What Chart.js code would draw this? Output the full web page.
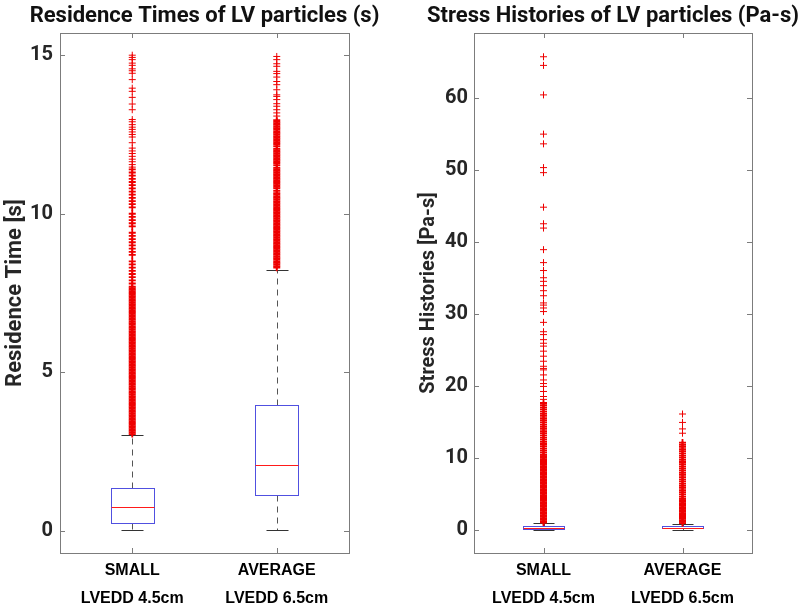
<!DOCTYPE html>
<html>
<head>
<meta charset="utf-8">
<script src="https://cdn.jsdelivr.net/npm/chart.js@4.4.1/dist/chart.umd.min.js"></script>
<style>
  body { margin: 0; background: #fff; }
  .panel { position: absolute; top: 0; width: 400px; height: 608px; }
</style>
</head>
<body>
<div class="panel" style="left:0"><canvas id="resChart" width="400" height="608"></canvas></div>
<div class="panel" style="left:400px"><canvas id="stressChart" width="400" height="608"></canvas></div>
<script>
// categories / tick labels
const categories = ['SMALL', 'AVERAGE'];
const subLabels = ['LVEDD 4.5cm', 'LVEDD 6.5cm'];
const resTicks = [0, 5, 10, 15];
const stressTicks = [0, 10, 20, 30, 40, 50, 60];

// box statistics, residence times (s)
const resLow = [0.03, 0.03];
const resQ1 = [0.26, 1.14];
const resMedian = [0.76, 2.07];
const resQ3 = [1.36, 3.98];
const resHigh = [3.02, 8.24];

// box statistics, stress histories (Pa-s)
const stressLow = [0.0, 0.0];
const stressQ1 = [0.15, 0.17];
const stressMedian = [0.3, 0.3];
const stressQ3 = [0.55, 0.45];
const stressHigh = [0.93, 0.8];

// outliers: packed bands and the scattered ones above them
const resOutSmallDense = [
  3.05, 3.1, 3.15, 3.2, 3.25, 3.3, 3.35, 3.4, 3.45, 3.5, 3.55, 3.6, 3.65, 3.7, 3.75, 3.8, 3.85, 3.9, 3.95, 4.0,
  4.05, 4.1, 4.15, 4.2, 4.25, 4.3, 4.35, 4.4, 4.45, 4.5, 4.55, 4.6, 4.65, 4.7, 4.75, 4.8, 4.85, 4.9, 4.95, 5.0,
  5.05, 5.1, 5.15, 5.2, 5.25, 5.3, 5.35, 5.4, 5.45, 5.5, 5.55, 5.6, 5.65, 5.7, 5.75, 5.8, 5.85, 5.9, 5.95, 6.0,
  6.05, 6.1, 6.15, 6.2, 6.25, 6.3, 6.35, 6.4, 6.45, 6.5, 6.55, 6.6, 6.65, 6.7, 6.75, 6.8, 6.85, 6.9, 6.95, 7.0,
  7.05, 7.1, 7.15, 7.2, 7.25, 7.3, 7.35, 7.4, 7.45, 7.5, 7.55, 7.6, 7.65, 7.7,
  7.8, 7.9, 8.0, 8.1, 8.2, 8.3, 8.4, 8.5, 8.7, 8.8, 8.9, 9.0, 9.1, 9.2, 9.3, 9.4, 9.6, 9.7, 9.8, 9.9,
  10.0, 10.2, 10.3, 10.4, 10.5, 10.6, 10.7, 10.8, 10.9, 11.0, 11.1, 11.2, 11.3, 11.4
];
const resOutSmallSparse = [
  11.47, 11.55, 11.64, 11.72, 11.81, 11.9, 11.98, 12.07, 12.24, 12.42, 12.5, 12.58, 12.66, 12.73, 12.81, 12.9,
  12.97, 13.28, 13.46, 13.67, 13.86, 13.96, 14.23, 14.43, 14.51, 14.57, 14.68, 14.75, 14.86, 14.93, 15.0
];
const resOutAverageDense = [
  8.3, 8.35, 8.4, 8.45, 8.5, 8.55, 8.6, 8.65, 8.7, 8.75, 8.8, 8.85, 8.9, 8.95, 9.0,
  9.05, 9.1, 9.15, 9.2, 9.25, 9.3, 9.35, 9.4, 9.45, 9.5, 9.55, 9.6, 9.65, 9.7, 9.75, 9.8, 9.85, 9.9, 9.95, 10.0,
  10.05, 10.1, 10.15, 10.2, 10.25, 10.3, 10.35, 10.4, 10.45, 10.5, 10.55, 10.6, 10.65, 10.72, 10.8, 10.85, 10.9,
  10.95, 11.0, 11.05, 11.1, 11.15, 11.2, 11.25, 11.3, 11.35, 11.4, 11.45, 11.53, 11.6, 11.65, 11.7, 11.75, 11.8,
  11.85, 11.9, 11.95, 12.0, 12.05, 12.13, 12.2, 12.25, 12.3, 12.35, 12.4, 12.45, 12.5, 12.55, 12.6, 12.65, 12.7,
  12.75, 12.8, 12.85, 12.9, 12.95
];
const resOutAverageSparse = [
  13.08, 13.18, 13.28, 13.39, 13.47, 13.6, 13.7, 13.75, 13.91, 14.07, 14.17, 14.31, 14.42, 14.49, 14.65,
  14.73, 14.86, 14.96
];
const stressOutSmallDense = [
  1.0, 1.2, 1.4, 1.6, 1.8, 2.0, 2.2, 2.4, 2.6, 2.8, 3.0, 3.2, 3.4, 3.6, 3.8, 4.0, 4.2, 4.4, 4.6, 4.8,
  5.0, 5.2, 5.4, 5.6, 5.8, 6.0, 6.2, 6.4, 6.6, 6.8, 7.0, 7.2, 7.4, 7.6, 7.8, 8.0, 8.2, 8.4, 8.6, 8.8,
  9.0, 9.2, 9.4, 9.6, 9.8, 10.0, 10.2, 10.4,
  10.7, 11.0, 11.3, 11.6, 11.9, 12.2, 12.5, 12.8, 13.1, 13.4, 13.7, 14.0, 14.3, 14.6, 14.9, 15.2, 15.5,
  15.8, 16.1, 16.4, 16.7, 17.0, 17.3, 17.6
];
const stressOutSmallSparse = [
  18.1, 18.5, 19.2, 19.9, 20.3, 20.8, 21.5, 22.2, 22.4, 22.7, 23.4, 24.1, 24.8, 25.5, 25.9, 26.4, 27.1,
  27.5, 28.8, 30.3, 30.8, 31.2, 31.5, 32.5, 33.2, 33.9, 34.5, 35.0, 36.0, 37.1, 38.9, 41.9, 42.5, 44.8,
  49.6, 50.3, 53.6, 54.95, 60.4, 64.5, 65.7
];
const stressOutAverageDense = [
  0.9, 1.1, 1.3, 1.5, 1.7, 1.9, 2.1, 2.3, 2.5, 2.7, 2.9, 3.1, 3.3, 3.5, 3.7, 3.9, 4.1, 4.3,
  4.6, 4.9, 5.2, 5.5, 5.8, 6.1, 6.4, 6.7, 7.0, 7.3, 7.6, 7.9, 8.2, 8.5, 8.8, 9.1, 9.4, 9.7, 10.0,
  10.3, 10.6, 10.9, 11.2, 11.5, 11.8, 12.1
];
const stressOutAverageSparse = [13.4, 14.0, 14.9, 16.07];

const FONT = 'Roboto';
const LABEL_FONT = 'Liberation Sans';
const TEXT = '#262626';
const FRAME = '#7c7c7c';
const BOX_HALF = 0.15;

function crisp(v) { return Math.round(v) + 0.5; }

function seg(ctx, x1, y1, x2, y2) {
  ctx.beginPath();
  ctx.moveTo(x1, y1);
  ctx.lineTo(x2, y2);
  ctx.stroke();
}

// MATLAB-like boxplot: boxes/whiskers under the outliers, frame + title on top
const boxPlotPlugin = {
  id: 'matlabBox',
  beforeDatasetsDraw(chart, args, opts) {
    const { ctx, scales: { x, y } } = chart;
    const s = opts.stats;
    ctx.save();
    ctx.lineWidth = 1;
    for (let i = 0; i < s.median.length; i++) {
      const pos = i + 1;
      const xl = crisp(x.getPixelForValue(pos - BOX_HALF));
      const xr = crisp(x.getPixelForValue(pos + BOX_HALF));
      const xc = crisp(x.getPixelForValue(pos));
      const cl = crisp(x.getPixelForValue(pos - BOX_HALF / 2));
      const cr = crisp(x.getPixelForValue(pos + BOX_HALF / 2));
      const yLo = crisp(y.getPixelForValue(s.low[i]));
      const yQ1 = crisp(y.getPixelForValue(s.q1[i]));
      const yMed = crisp(y.getPixelForValue(s.median[i]));
      const yQ3 = crisp(y.getPixelForValue(s.q3[i]));
      const yHi = crisp(y.getPixelForValue(s.high[i]));

      // dashed whiskers
      ctx.strokeStyle = '#555';
      ctx.setLineDash([6, 5]);
      seg(ctx, xc, yQ3, xc, yHi);
      seg(ctx, xc, yQ1, xc, yLo);
      ctx.setLineDash([]);

      // caps
      ctx.strokeStyle = '#333';
      seg(ctx, cl, yHi, cr, yHi);
      seg(ctx, cl, yLo, cr, yLo);

      // box
      ctx.strokeStyle = '#5050e0';
      ctx.strokeRect(xl, yQ3, xr - xl, yQ1 - yQ3);

      // median
      ctx.strokeStyle = '#ff1a1a';
      seg(ctx, xl, yMed, xr, yMed);
    }
    ctx.restore();
  },
  afterDraw(chart, args, opts) {
    const { ctx, chartArea: { left, right, top, bottom }, scales: { x, y } } = chart;
    ctx.save();
    ctx.strokeStyle = FRAME;
    ctx.lineWidth = 1;
    ctx.strokeRect(crisp(left), crisp(top), Math.round(right - left), Math.round(bottom - top));

    // inward tick marks
    y.ticks.forEach(t => {
      const py = crisp(y.getPixelForValue(t.value));
      seg(ctx, left, py, left + 5, py);
      seg(ctx, right - 5, py, right, py);
    });
    x.ticks.forEach(t => {
      const px = crisp(x.getPixelForValue(t.value));
      seg(ctx, px, top, px, top + 5);
      seg(ctx, px, bottom - 5, px, bottom);
    });

    // title centred over the axes
    ctx.fillStyle = '#111';
    ctx.font = `bold 22px ${FONT}`;
    ctx.textAlign = 'center';
    ctx.textBaseline = 'middle';
    ctx.fillText(opts.title, (left + right) / 2, 16);
    ctx.restore();
  }
};

function outlierSet(values, pos, width) {
  return {
    data: values.map(v => ({ x: pos, y: v })),
    pointStyle: 'cross',
    pointRadius: 3.5,
    borderColor: '#ee0000',
    borderWidth: width,
    pointHoverRadius: 3.5
  };
}

function makeChart(canvasId, cfg) {
  return new Chart(document.getElementById(canvasId), {
    type: 'scatter',
    data: {
      datasets: [
        outlierSet(cfg.outSmall[0], 1, 1.8),
        outlierSet(cfg.outSmall[1], 1, 1),
        outlierSet(cfg.outAverage[0], 2, 1.8),
        outlierSet(cfg.outAverage[1], 2, 1)
      ]
    },
    options: {
      responsive: false,
      animation: false,
      events: [],
      layout: { padding: { top: 33, right: cfg.padRight, left: 0, bottom: 0 } },
      plugins: {
        legend: { display: false },
        tooltip: { enabled: false },
        matlabBox: { stats: cfg.stats, title: cfg.title }
      },
      scales: {
        x: {
          type: 'linear',
          min: 0.5,
          max: 2.5,
          afterBuildTicks: s => { s.ticks = [{ value: 1 }, { value: 2 }]; },
          afterFit: s => { s.height = 55; },
          grid: { display: false, drawTicks: false },
          border: { display: false },
          ticks: {
            autoSkip: false,
            maxRotation: 0,
            padding: 4,
            color: '#000',
            font: { family: LABEL_FONT, weight: 'bold', size: 16, lineHeight: '28px' },
            callback: (v, i) => [categories[i], subLabels[i]]
          }
        },
        y: {
          min: cfg.yMin,
          max: cfg.yMax,
          afterBuildTicks: s => { s.ticks = cfg.ticks.map(v => ({ value: v })); },
          afterFit: s => { s.width = cfg.yWidth; },
          grid: { display: false, drawTicks: false },
          border: { display: false },
          ticks: {
            padding: cfg.tickPad,
            color: TEXT,
            font: { family: FONT, weight: 'bold', size: 20 }
          },
          title: {
            display: true,
            text: cfg.yTitle,
            color: TEXT,
            font: { family: FONT, weight: 'bold', size: cfg.yTitleSize },
            padding: { top: cfg.titlePad, bottom: 0 }
          }
        }
      }
    },
    plugins: [boxPlotPlugin]
  });
}

makeChart('resChart', {
  title: 'Residence Times of LV particles (s)',
  yTitle: 'Residence Time [s]',
  yTitleSize: 22,
  outSmall: [resOutSmallDense, resOutSmallSparse],
  outAverage: [resOutAverageDense, resOutAverageSparse],
  stats: { low: resLow, q1: resQ1, median: resMedian, q3: resQ3, high: resHigh },
  ticks: resTicks,
  yMin: -0.7,
  yMax: 15.7,
  yWidth: 60,
  padRight: 51,
  tickPad: 7,
  titlePad: 2
});

makeChart('stressChart', {
  title: 'Stress Histories of LV particles (Pa-s)',
  yTitle: 'Stress Histories [Pa-s]',
  yTitleSize: 20,
  outSmall: [stressOutSmallDense, stressOutSmallSparse],
  outAverage: [stressOutAverageDense, stressOutAverageSparse],
  stats: { low: stressLow, q1: stressQ1, median: stressMedian, q3: stressQ3, high: stressHigh },
  ticks: stressTicks,
  yMin: -3.24,
  yMax: 69,
  yWidth: 74,
  padRight: 48,
  tickPad: 6,
  titlePad: 17
});
</script>
</body>
</html>
